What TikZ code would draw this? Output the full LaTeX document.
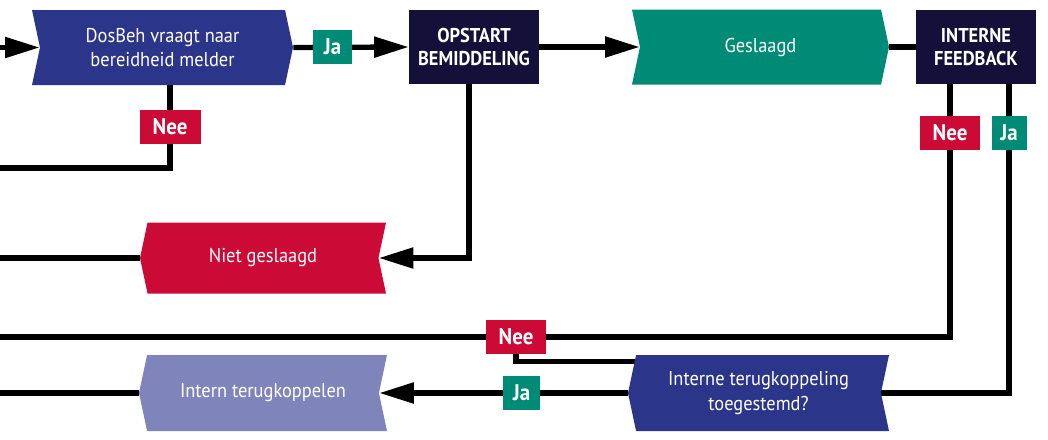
\documentclass[tikz,border=0pt]{standalone}
\usepackage{fontspec}
\setmainfont[FakeStretch=0.92]{PT Sans}
\usetikzlibrary{shapes.symbols,arrows.meta,backgrounds}

\definecolor{dosblauw}{HTML}{2B3589}
\definecolor{nachtblauw}{HTML}{141039}
\definecolor{groen}{HTML}{008B76}
\definecolor{rood}{HTML}{CC0A36}
\definecolor{lila}{HTML}{7F85BA}

\tikzset{
  stap/.style={shape=signal, signal pointer angle=156, minimum height=56.25pt,
    inner sep=0pt, text=white, align=center, font=\fontsize{15}{18.5}\selectfont},
  naarrechts/.style={stap, signal from=west, signal to=east},
  naarlinks/.style={stap, signal from=east, signal to=west},
  blok/.style={fill=nachtblauw, text=white, align=center, inner sep=0pt,
    minimum height=55.5pt, font=\fontsize{15}{17.5}\selectfont\bfseries},
  keuze/.style={text=white, inner sep=0pt, minimum height=25.5pt,
    font=\fontsize{17}{17}\selectfont\bfseries},
  lijn/.style={line width=4pt},
  pijl/.style={lijn, -{Triangle[length=26pt,width=15pt]}},
}

\begin{document}
\begin{tikzpicture}[x=7.5pt,y=-7.5pt]
\useasboundingbox (0,0) rectangle (104.8,43.9);
% bovenste rij
\node[naarrechts, fill=dosblauw, minimum width=195.75pt] (dosbeh) at (16.25,4.75) {DosBeh vraagt naar\\bereidheid melder};
\node[blok, minimum width=97.5pt] (opstart) at (47.4,4.7) {OPSTART\\BEMIDDELING};
\node[naarrechts, fill=groen, minimum width=192.75pt] (geslaagd) at (76.05,4.7) {Geslaagd};
\node[blok, minimum width=90pt] (feedback) at (97.6,4.7) {INTERNE\\FEEDBACK};
% middelste rij
\node[naarlinks, fill=rood, minimum width=184.5pt, minimum height=53.25pt] (niet) at (26.3,25.8) {Niet geslaagd};
% onderste rij
\node[naarlinks, fill=lila, minimum width=186pt, minimum height=57pt] (intern) at (26.3,39.3) {Intern terugkoppelen};
\node[naarlinks, fill=dosblauw, minimum width=195.75pt, minimum height=57pt] (vraag) at (75.85,39.3) {Interne terugkoppeling\\toegestemd?};
% ja/nee
\node[keuze, fill=groen, minimum width=29.25pt] (jaA) at (33.25,4.7) {Ja};
\node[keuze, fill=rood, minimum width=45.75pt] (neeA) at (17,12.7) {Nee};
\node[keuze, fill=rood, minimum width=45pt] (neeB) at (95,13.25) {Nee};
\node[keuze, fill=groen, minimum width=26.25pt] (jaB) at (100.9,13.25) {Ja};
\node[keuze, fill=rood, minimum width=45pt] (neeC) at (51.6,33.7) {Nee};
\node[keuze, fill=groen, minimum width=27.75pt] (jaC) at (52.15,39.3) {Ja};
% losse eindpunten links
\coordinate (inA) at (0,4.75);
\coordinate (uitA) at (0,16.8);
\coordinate (uitB) at (0,25.8);
\coordinate (uitC) at (0,33.7);
\coordinate (uitD) at (0,39.3);
\begin{scope}[on background layer]
\draw[pijl] (inA) -- (dosbeh.west);
\draw[pijl] (dosbeh.east) -- (opstart.west);
\draw[pijl] (opstart.east) -- (geslaagd.west);
\draw[lijn] (geslaagd.east) -- (feedback.west);
\draw[lijn] (dosbeh.south -| neeA) -- (neeA |- uitA) -- (uitA);
\draw[pijl] ([xshift=-3.75pt]opstart.south) |- (niet.east);
\draw[lijn] (niet.west) -- (uitB);
\draw[lijn] (feedback.south -| neeB) |- (uitC);
\draw[lijn] (neeC.south) |- ([yshift=-5pt]vraag.north);
\draw[lijn] (feedback.south -| jaB) |- (vraag.east);
\draw[pijl] (vraag.west) -- (intern.east);
\draw[lijn] (intern.west) -- (uitD);
\end{scope}
\end{tikzpicture}
\end{document}
